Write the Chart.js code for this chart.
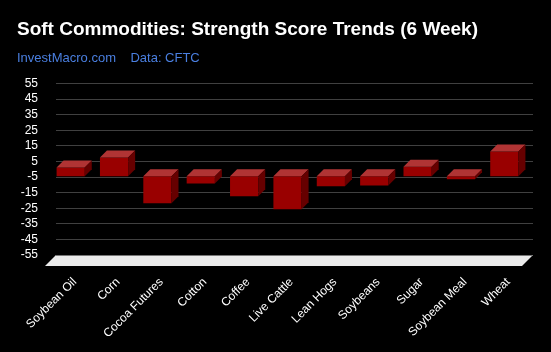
<!DOCTYPE html>
<html><head><meta charset="utf-8">
<script src="https://cdn.jsdelivr.net/npm/chart.js@4.4.1/dist/chart.umd.min.js"></script>
<style>html,body{margin:0;padding:0;background:#000;}canvas{display:block;}</style>
</head><body>
<canvas id="c" width="551" height="352"></canvas>
<script>
const categories = ['Soybean Oil','Corn','Cocoa Futures','Cotton','Coffee','Live Cattle','Lean Hogs','Soybeans','Sugar','Soybean Meal','Wheat'];
const strengthChange = [5.6, 12, -17.4, -4.6, -12.9, -21.2, -6.5, -5.9, 6.1, -2, 15.9];
const yTickMin = -55, yTickMax = 55, yTickStep = 10;
const titleText = 'Soft Commodities: Strength Score Trends (6 Week)';
const subtitleText = 'InvestMacro.com    Data: CFTC';

const DEPTH = 7, FLOOR = 11;
const FONT = "'Liberation Sans', Arial, sans-serif";

const threeD = {
  id: 'threeD',
  beforeDatasetsDraw(chart) {
    const { ctx, chartArea: a } = chart;
    ctx.save();
    ctx.fillStyle = '#ebebeb';
    ctx.beginPath();
    ctx.moveTo(a.left, a.bottom);
    ctx.lineTo(a.right, a.bottom);
    ctx.lineTo(a.right - FLOOR, a.bottom + FLOOR);
    ctx.lineTo(a.left - FLOOR, a.bottom + FLOOR);
    ctx.closePath();
    ctx.fill();
    ctx.strokeStyle = '#777';
    ctx.lineWidth = 1;
    ctx.beginPath();
    ctx.moveTo(a.left, a.bottom + 0.5);
    ctx.lineTo(a.right, a.bottom + 0.5);
    ctx.stroke();
    ctx.restore();
    ctx.save();
    ctx.translate(-DEPTH, DEPTH);
  },
  afterDatasetsDraw(chart) {
    const ctx = chart.ctx;
    chart.getDatasetMeta(0).data.forEach(bar => {
      const p = bar.getProps(['x', 'y', 'base', 'width'], true);
      const l = p.x - p.width / 2, r = p.x + p.width / 2;
      const top = Math.min(p.y, p.base), bot = Math.max(p.y, p.base);
      ctx.fillStyle = '#b03434';
      ctx.beginPath();
      ctx.moveTo(l, top); ctx.lineTo(l + DEPTH, top - DEPTH);
      ctx.lineTo(r + DEPTH, top - DEPTH); ctx.lineTo(r, top);
      ctx.closePath(); ctx.fill();
      ctx.fillStyle = '#660000';
      ctx.beginPath();
      ctx.moveTo(r, top); ctx.lineTo(r + DEPTH, top - DEPTH);
      ctx.lineTo(r + DEPTH, bot - DEPTH); ctx.lineTo(r, bot);
      ctx.closePath(); ctx.fill();
    });
    ctx.restore();
  }
};

new Chart(document.getElementById('c'), {
  type: 'bar',
  data: {
    labels: categories,
    datasets: [{
      data: strengthChange,
      backgroundColor: '#990000',
      borderWidth: 0,
      barPercentage: 0.65,
      categoryPercentage: 1
    }]
  },
  options: {
    responsive: false,
    animation: false,
    layout: { padding: { left: 17, right: 18, top: 0, bottom: 0 } },
    plugins: {
      legend: { display: false },
      tooltip: { enabled: false },
      title: {
        display: true, text: titleText, color: '#ffffff', align: 'start',
        font: { family: FONT, size: 19, weight: 'bold' },
        padding: { top: 18, bottom: 10 }
      },
      subtitle: {
        display: true, text: subtitleText, color: '#4a7fe0', align: 'start',
        font: { family: FONT, size: 13 },
        padding: { top: 0, bottom: 17 }
      }
    },
    scales: {
      x: {
        grid: { display: false },
        border: { display: false },
        ticks: {
          color: '#ffffff', font: { family: FONT, size: 12 },
          maxRotation: 45, minRotation: 45, autoSkip: false, padding: 12,
          labelOffset: -3
        },
        afterFit(s) { s.height = 97; }
      },
      y: {
        min: yTickMin, max: yTickMax,
        grid: { color: '#404040', drawTicks: false },
        border: { display: false },
        ticks: {
          stepSize: yTickStep, color: '#ffffff', autoSkip: false,
          font: { family: FONT, size: 12 }, padding: 18
        },
        afterFit(s) { s.width = 39; }
      }
    }
  },
  plugins: [threeD]
});
</script>
</body></html>
